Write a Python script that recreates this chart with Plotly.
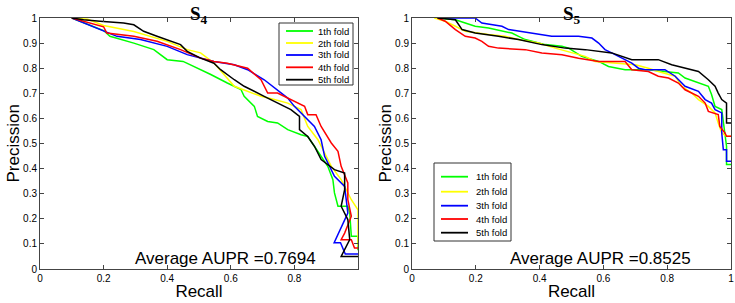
import plotly.graph_objects as go

W, H = 735, 303

fold_names = ["1th fold", "2th fold", "3th fold", "4th fold", "5th fold"]
fold_colors = ["#00ff00", "#ffff00", "#0000ff", "#ff0000", "#000000"]

# ---- S4 panel (recall, precision) ----
s4_f1_x = [0.10, 0.179, 0.20, 0.22, 0.295, 0.358, 0.40, 0.45, 0.484, 0.537, 0.589, 0.632, 0.642, 0.674, 0.684, 0.716, 0.747, 0.779, 0.821, 0.842, 0.863, 0.884, 0.905, 0.921, 0.926, 0.937, 0.968, 0.974, 0.979, 1.0, 1.0]
s4_f1_y = [1.00, 0.960, 0.95, 0.927, 0.90, 0.874, 0.834, 0.827, 0.807, 0.775, 0.741, 0.715, 0.688, 0.648, 0.608, 0.588, 0.582, 0.555, 0.535, 0.528, 0.489, 0.449, 0.409, 0.356, 0.303, 0.25, 0.25, 0.223, 0.13, 0.13, 0.075]
s4_f2_x = [0.10, 0.15, 0.20, 0.295, 0.40, 0.463, 0.505, 0.547, 0.611, 0.695, 0.737, 0.779, 0.821, 0.842, 0.874, 0.90, 0.916, 0.947, 0.979, 1.0, 1.0]
s4_f2_y = [1.00, 0.995, 0.97, 0.946, 0.907, 0.874, 0.861, 0.821, 0.728, 0.688, 0.675, 0.661, 0.635, 0.568, 0.515, 0.449, 0.409, 0.356, 0.276, 0.236, 0.09]
s4_f3_x = [0.10, 0.189, 0.242, 0.316, 0.40, 0.463, 0.547, 0.611, 0.653, 0.705, 0.747, 0.779, 0.80, 0.832, 0.863, 0.884, 0.895, 0.926, 0.958, 0.968, 0.925, 0.945, 0.96, 1.0]
s4_f3_y = [1.00, 0.953, 0.927, 0.914, 0.887, 0.854, 0.827, 0.814, 0.794, 0.754, 0.714, 0.681, 0.648, 0.608, 0.568, 0.515, 0.449, 0.369, 0.329, 0.223, 0.105, 0.105, 0.06, 0.06]
s4_f4_x = [0.10, 0.20, 0.21, 0.295, 0.368, 0.442, 0.505, 0.547, 0.589, 0.653, 0.695, 0.716, 0.747, 0.789, 0.832, 0.842, 0.868, 0.884, 0.916, 0.937, 0.947, 0.968, 0.968, 0.979, 0.958, 0.947, 0.979, 0.989, 1.0]
s4_f4_y = [1.00, 0.965, 0.94, 0.927, 0.907, 0.874, 0.84, 0.827, 0.82, 0.80, 0.754, 0.701, 0.701, 0.675, 0.648, 0.615, 0.615, 0.568, 0.502, 0.469, 0.409, 0.343, 0.276, 0.21, 0.143, 0.117, 0.117, 0.084, 0.084]
s4_f5_x = [0.10, 0.137, 0.189, 0.263, 0.295, 0.326, 0.368, 0.41, 0.442, 0.463, 0.505, 0.547, 0.568, 0.611, 0.642, 0.705, 0.747, 0.789, 0.816, 0.816, 0.842, 0.863, 0.884, 0.926, 0.958, 0.958, 0.947, 0.968, 0.974, 0.947, 1.0]
s4_f5_y = [1.00, 0.993, 0.987, 0.98, 0.973, 0.947, 0.927, 0.907, 0.894, 0.867, 0.84, 0.82, 0.794, 0.754, 0.728, 0.688, 0.661, 0.635, 0.608, 0.555, 0.528, 0.489, 0.436, 0.396, 0.382, 0.316, 0.25, 0.197, 0.117, 0.05, 0.05]

# ---- S5 panel ----
s5_f1_x = [0.08, 0.136, 0.167, 0.198, 0.24, 0.282, 0.313, 0.334, 0.355, 0.376, 0.418, 0.47, 0.491, 0.532, 0.585, 0.616, 0.668, 0.741, 0.793, 0.835, 0.856, 0.898, 0.929, 0.939, 0.95, 0.971, 0.981, 0.986, 0.986, 1.0]
s5_f1_y = [1.00, 0.993, 0.98, 0.967, 0.96, 0.947, 0.94, 0.927, 0.914, 0.907, 0.894, 0.887, 0.88, 0.847, 0.827, 0.807, 0.794, 0.794, 0.787, 0.781, 0.761, 0.741, 0.728, 0.695, 0.648, 0.635, 0.542, 0.489, 0.416, 0.416]
s5_f2_x = [0.07, 0.104, 0.136, 0.167, 0.24, 0.292, 0.334, 0.397, 0.449, 0.501, 0.543, 0.574, 0.637, 0.70, 0.741, 0.772, 0.825, 0.846, 0.877, 0.898, 0.929, 0.95, 0.96, 0.971, 0.986, 1.0]
s5_f2_y = [1.00, 0.987, 0.967, 0.947, 0.934, 0.927, 0.914, 0.90, 0.88, 0.861, 0.847, 0.827, 0.82, 0.814, 0.80, 0.787, 0.768, 0.728, 0.701, 0.675, 0.648, 0.622, 0.582, 0.542, 0.529, 0.529]
s5_f3_x = [0.08, 0.198, 0.219, 0.282, 0.303, 0.376, 0.438, 0.522, 0.564, 0.585, 0.605, 0.626, 0.647, 0.689, 0.71, 0.731, 0.793, 0.825, 0.856, 0.898, 0.919, 0.939, 0.95, 0.971, 0.971, 0.976, 0.986, 0.986, 1.0]
s5_f3_y = [1.00, 1.00, 0.98, 0.967, 0.954, 0.94, 0.927, 0.927, 0.92, 0.90, 0.874, 0.861, 0.847, 0.82, 0.80, 0.794, 0.794, 0.768, 0.728, 0.708, 0.675, 0.661, 0.635, 0.622, 0.542, 0.475, 0.475, 0.429, 0.429]
s5_f4_x = [0.08, 0.104, 0.136, 0.167, 0.198, 0.219, 0.24, 0.271, 0.355, 0.407, 0.47, 0.522, 0.585, 0.668, 0.689, 0.741, 0.772, 0.804, 0.835, 0.856, 0.898, 0.919, 0.929, 0.96, 0.965, 0.981, 0.986, 1.0]
s5_f4_y = [1.00, 0.987, 0.954, 0.927, 0.92, 0.907, 0.887, 0.88, 0.874, 0.861, 0.854, 0.84, 0.827, 0.827, 0.794, 0.787, 0.768, 0.761, 0.741, 0.714, 0.688, 0.661, 0.628, 0.615, 0.568, 0.542, 0.529, 0.529]
s5_f5_x = [0.08, 0.136, 0.157, 0.198, 0.271, 0.334, 0.407, 0.48, 0.543, 0.626, 0.689, 0.772, 0.814, 0.856, 0.898, 0.929, 0.95, 0.96, 0.971, 0.986, 0.986, 1.0]
s5_f5_y = [1.00, 0.993, 0.954, 0.94, 0.927, 0.914, 0.894, 0.88, 0.874, 0.861, 0.834, 0.834, 0.814, 0.80, 0.787, 0.754, 0.728, 0.701, 0.675, 0.661, 0.582, 0.582]

panel_titles = ["S<sub>4</sub>", "S<sub>5</sub>"]
aupr_texts = ["Average AUPR =0.7694", "Average AUPR =0.8525"]
x_title = "Recall"
y_title = "Precission"
x_ticks_left = [0, 0.2, 0.4, 0.6, 0.8]
x_ticks_right = [0, 0.2, 0.4, 0.6, 0.8, 1]
y_ticks = [0, 0.1, 0.2, 0.3, 0.4, 0.5, 0.6, 0.7, 0.8, 0.9, 1]

s4 = [(s4_f1_x, s4_f1_y), (s4_f2_x, s4_f2_y), (s4_f3_x, s4_f3_y), (s4_f4_x, s4_f4_y), (s4_f5_x, s4_f5_y)]
s5 = [(s5_f1_x, s5_f1_y), (s5_f2_x, s5_f2_y), (s5_f3_x, s5_f3_y), (s5_f4_x, s5_f4_y), (s5_f5_x, s5_f5_y)]


def px(x):
    return x / W


def py(y):
    return 1 - y / H


fig = go.Figure()
for (xs, ys), name, col in zip(s4, fold_names, fold_colors):
    fig.add_trace(go.Scatter(x=xs, y=ys, mode="lines", name=name, xaxis="x", yaxis="y",
                             line=dict(color=col, width=1.5), showlegend=False))
for (xs, ys), name, col in zip(s5, fold_names, fold_colors):
    fig.add_trace(go.Scatter(x=xs, y=ys, mode="lines", name=name, xaxis="x2", yaxis="y2",
                             line=dict(color=col, width=1.5), showlegend=False))

tickfont = dict(family="Liberation Sans, Arial", size=10, color="#000")
titlefont = dict(family="Liberation Sans, Arial", size=17, color="#000")
common_axis = dict(showgrid=False, zeroline=False, showline=True, linecolor="#444", linewidth=1,
                   mirror="ticks", ticks="inside", ticklen=4, tickcolor="#444", tickfont=tickfont,
                   range=[0, 1], fixedrange=True, automargin=False)

y_dom = [py(269), py(18)]
fig.update_layout(
    width=W, height=H, margin=dict(l=0, r=0, t=0, b=0, autoexpand=False),
    paper_bgcolor="white", plot_bgcolor="white", showlegend=False,
    xaxis=dict(common_axis, domain=[px(40), px(358)], anchor="y", tickvals=x_ticks_left,
               ticktext=[f"{v:g}" for v in x_ticks_left],
               title=dict(text=x_title, font=titlefont, standoff=2)),
    yaxis=dict(common_axis, domain=y_dom, anchor="x", tickvals=y_ticks,
               ticktext=[f"{v:g}" for v in y_ticks]),
    xaxis2=dict(common_axis, domain=[px(412), px(731)], anchor="y2", tickvals=x_ticks_right,
                ticktext=[f"{v:g}" for v in x_ticks_right],
                title=dict(text=x_title, font=titlefont, standoff=2)),
    yaxis2=dict(common_axis, domain=y_dom, anchor="x2", tickvals=y_ticks,
                ticktext=[f"{v:g}" for v in y_ticks]),
)

annotations = []
shapes = []
# y-axis titles (rotated)
for xc in [13, 385]:
    annotations.append(dict(x=px(xc), y=py(143.5), xref="paper", yref="paper", text=y_title,
                            textangle=-90, showarrow=False, font=titlefont,
                            xanchor="center", yanchor="middle"))
serif = dict(family="Liberation Serif, Times New Roman", size=19, color="#000")
for cx, t in zip([(40 + 358) / 2, (412 + 731) / 2], panel_titles):
    annotations.append(dict(x=px(cx), y=py(15), xref="paper", yref="paper", text=f"<b>{t}</b>",
                            showarrow=False, font=serif, xanchor="center", yanchor="middle"))
for x0, t in zip([133, 508], aupr_texts):
    annotations.append(dict(x=px(x0), y=py(258), xref="paper", yref="paper", text=t, showarrow=False,
                            font=dict(family="Liberation Sans, Arial", size=17, color="#000"),
                            xanchor="left", yanchor="middle"))

# manual legends (MATLAB style boxes)
legend_specs = [
    dict(box=(279, 23, 353, 85), line=(286, 313), text_x=316, rows=[31, 43, 55, 67.3, 79.7]),
    dict(box=(434, 163, 511, 241), line=(441, 468), text_x=474, rows=[176.7, 191.7, 205.7, 219, 232.7]),
]
for spec in legend_specs:
    bx0, by0, bx1, by1 = spec["box"]
    shapes.append(dict(type="rect", xref="paper", yref="paper", x0=px(bx0), x1=px(bx1),
                       y0=py(by1), y1=py(by0), line=dict(color="#333", width=1), fillcolor="white",
                       layer="above"))
    for r, name, col in zip(spec["rows"], fold_names, fold_colors):
        shapes.append(dict(type="line", xref="paper", yref="paper", x0=px(spec["line"][0]),
                           x1=px(spec["line"][1]), y0=py(r), y1=py(r),
                           line=dict(color=col, width=1.8), layer="above"))
        annotations.append(dict(x=px(spec["text_x"]), y=py(r), xref="paper", yref="paper", text=name,
                                showarrow=False, xanchor="left", yanchor="middle",
                                font=dict(family="Liberation Sans, Arial", size=9.5, color="#000")))

fig.update_layout(annotations=annotations, shapes=shapes)
fig.write_html("out.html", config={"displayModeBar": False},
               post_script="document.body.style.margin='0px';document.body.style.overflow='hidden';")
